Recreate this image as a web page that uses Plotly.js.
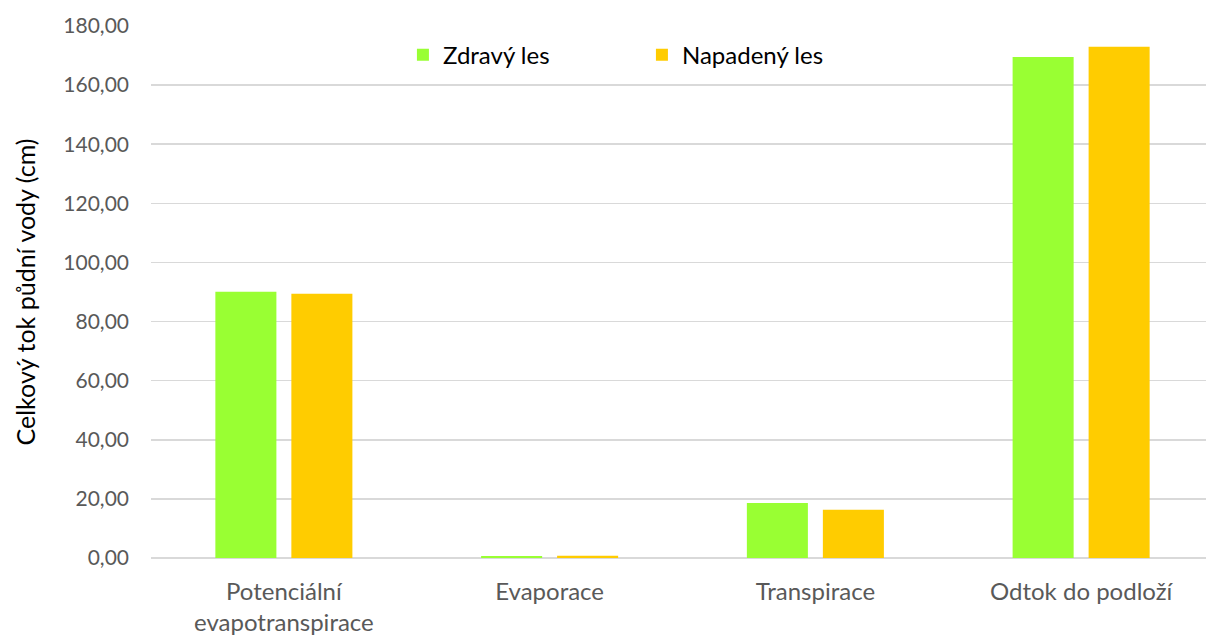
<!DOCTYPE html>
<html>
<head>
<meta charset="utf-8">
<script src="https://cdn.plot.ly/plotly-3.0.1.min.js"></script>
<style>
html, body { margin: 0; padding: 0; overflow: hidden; background: #fff; }
#chart { width: 1222px; height: 637px; }
</style>
</head>
<body>
<div id="chart"></div>
<script>
const categories = ["Potenciální<br>evapotranspirace", "Evaporace", "Transpirace", "Odtok do podloží"];
const zdravyLes = [90.1, 0.67, 18.6, 169.5];
const napadenyLes = [89.4, 0.78, 16.3, 173.0];
const seriesNames = ["Zdravý les", "Napadený les"];
const yTitle = "Celkový tok půdní vody (cm)";

const FONT = "Lato, 'Open Sans', sans-serif";

const data = [
  { type: "bar", name: seriesNames[0], x: categories, y: zdravyLes,
    marker: { color: "#99FF33" }, hoverinfo: "y" },
  { type: "bar", name: seriesNames[1], x: categories, y: napadenyLes,
    marker: { color: "#FFCC00" }, hoverinfo: "y" }
];

const layout = {
  width: 1222, height: 637,
  margin: { l: 151, r: 8, t: 26, b: 79 },
  paper_bgcolor: "#ffffff", plot_bgcolor: "#ffffff",
  font: { family: FONT, color: "#595959" },
  barmode: "group",
  bargap: 0.428,
  bargroupgap: 0.197,
  separators: ", ",
  showlegend: true,
  legend: {
    orientation: "h",
    x: 0.237, xanchor: "left",
    y: 0.945, yanchor: "middle",
    font: { family: FONT, size: 24, color: "#000000" },
    entrywidth: 194, entrywidthmode: "pixels",
    bgcolor: "rgba(0,0,0,0)"
  },
  xaxis: {
    type: "category",
    showgrid: false, zeroline: false, showline: false,
    ticks: "", ticklabelstandoff: 17,
    tickfont: { family: FONT, size: 24, color: "#595959" },
    automargin: false
  },
  yaxis: {
    range: [0, 180], dtick: 20, tick0: 0,
    tickformat: ".2f",
    showgrid: true, gridcolor: "#D9D9D9", gridwidth: 1.5,
    zeroline: true, zerolinecolor: "#D9D9D9", zerolinewidth: 1.5,
    showline: false, ticks: "", ticklabelstandoff: 21,
    tickfont: { family: FONT, size: 21, color: "#595959" },
    automargin: false,
    title: { text: yTitle, font: { family: FONT, size: 25, color: "#000000" }, standoff: 20 }
  }
};

Plotly.newPlot("chart", data, layout, { displayModeBar: false, staticPlot: true });
</script>
</body>
</html>
